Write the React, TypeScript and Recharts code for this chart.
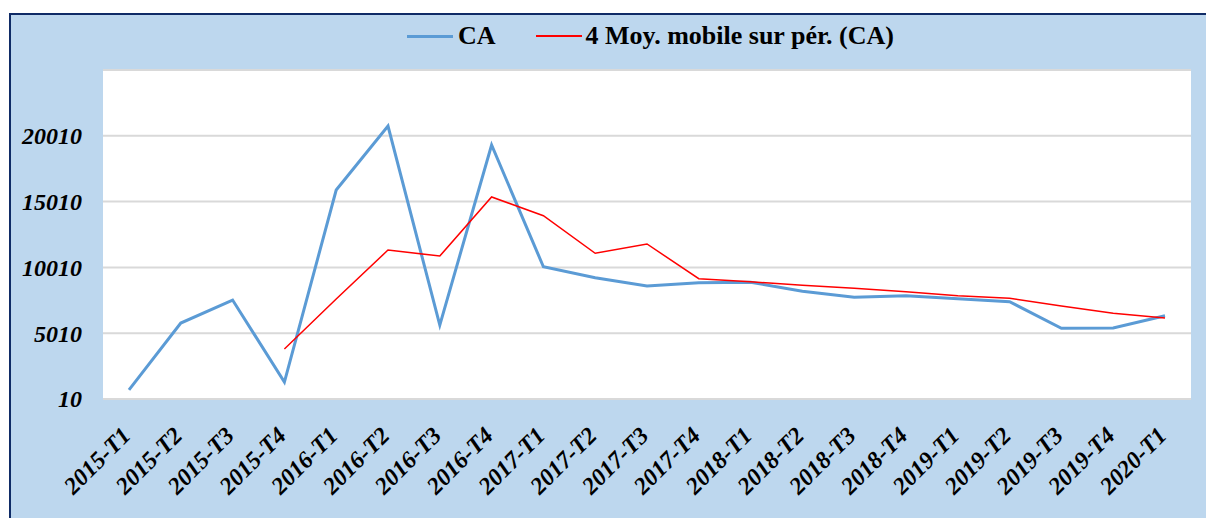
import React from 'react';
import { LineChart, Line, XAxis, YAxis, CartesianGrid, Legend } from 'recharts';

const quarters = [
    '2015-T1', '2015-T2', '2015-T3', '2015-T4',
    '2016-T1', '2016-T2', '2016-T3', '2016-T4',
    '2017-T1', '2017-T2', '2017-T3', '2017-T4',
    '2018-T1', '2018-T2', '2018-T3', '2018-T4',
    '2019-T1', '2019-T2', '2019-T3', '2019-T4',
    '2020-T1',
];

const ca = [
    700, 5780, 7530, 1300,
    15890, 20750, 5630, 19310,
    10060, 9230, 8600, 8850,
    8880, 8200, 7740, 7860,
    7630, 7400, 5380, 5400,
    6340,
];

// moyenne mobile 4 périodes, vide pour les 3 premiers trimestres
const moyMobile = [
    null, null, null, 3810,
    7610, 11330, 10870, 15360,
    13940, 11080, 11790, 9150,
    8920, 8650, 8420, 8160,
    7860, 7660, 7080, 6520,
    6160,
];

const yTicks = [10, 5010, 10010, 15010, 20010];

const SERIF = 'Liberation Serif, Tinos, Times New Roman, DejaVu Serif, serif';
const BLUE = '#5B9BD5';
const RED = '#FF0000';

const data = quarters.map((q, i) => ({ name: q, ca: ca[i], mm: moyMobile[i] }));

const XTick = ({ x, y, payload }: any) => {
    const ax = x + 3;
    const ay = y + 30;
    return (
        <text
            x={ax}
            y={ay}
            transform={`rotate(-45, ${ax}, ${ay})`}
            textAnchor="end"
            style={{ fill: '#000', fontSize: 24, fontWeight: 'bold', fontStyle: 'italic', fontFamily: SERIF }}
        >
            {payload.value}
        </text>
    );
};

const YTick = ({ x, y, payload }: any) => (
    <text
        x={x}
        y={y}
        dy="0.35em"
        textAnchor="end"
        style={{ fill: '#000', fontSize: 24, fontWeight: 'bold', fontStyle: 'italic', fontFamily: SERIF }}
    >
        {payload.value}
    </text>
);

const LegendContent = () => (
    <div style={{ display: 'flex', alignItems: 'center', fontFamily: SERIF, fontWeight: 'bold', fontSize: 26, color: '#000', whiteSpace: 'nowrap' }}>
        <span style={{ display: 'inline-block', width: 46, height: 3, background: BLUE, marginRight: 5 }} />
        <span>CA</span>
        <span style={{ display: 'inline-block', width: 46, height: 1.5, background: RED, marginLeft: 40, marginRight: 4 }} />
        <span>4 Moy. mobile sur pér. (CA)</span>
    </div>
);

export default function App() {
    return (
        <div style={{ position: 'absolute', left: 0, top: 0, width: 1206, height: 518, background: '#fff', overflow: 'hidden', fontFamily: SERIF }}>
            <div
                style={{
                    position: 'absolute',
                    left: 9,
                    top: 13,
                    width: 1220,
                    height: 520,
                    background: '#BDD7EE',
                    borderTop: '2px solid #0F2B66',
                    borderLeft: '2px solid #0F2B66',
                }}
            />
            <div style={{ position: 'absolute', left: 0, top: 0 }}>
                <LineChart width={1206} height={518} data={data} margin={{ top: 70, right: 15, left: 0, bottom: 0 }}>
                    <CartesianGrid vertical={false} fill="#fff" stroke="#D9D9D9" strokeWidth={2} />
                    <XAxis
                        dataKey="name"
                        interval={0}
                        height={119}
                        padding={{ left: 26, right: 26 }}
                        axisLine={false}
                        tickLine={false}
                        tick={<XTick />}
                    />
                    <YAxis
                        width={103}
                        domain={[10, 25010]}
                        ticks={yTicks}
                        axisLine={false}
                        tickLine={false}
                        tickMargin={15}
                        tick={<YTick />}
                    />
                    <Legend
                        layout="horizontal"
                        verticalAlign="middle"
                        align="center"
                        content={<LegendContent />}
                        wrapperStyle={{ left: 407, top: 21, width: 'auto' }}
                    />
                    <Line dataKey="ca" stroke={BLUE} strokeWidth={3} dot={false} isAnimationActive={false} />
                    <Line dataKey="mm" stroke={RED} strokeWidth={1.5} dot={false} isAnimationActive={false} connectNulls={false} />
                </LineChart>
            </div>
        </div>
    );
}
